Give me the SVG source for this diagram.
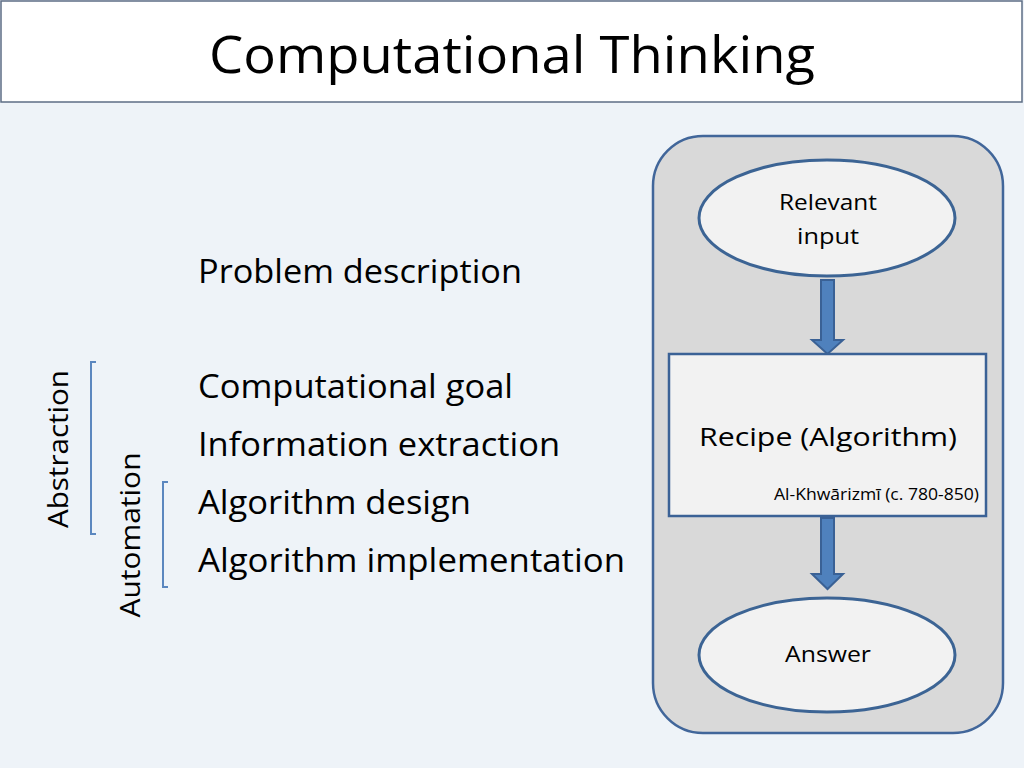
<svg xmlns="http://www.w3.org/2000/svg" width="1024" height="768" viewBox="0 0 1024 768">
<defs>
<style>
text{font-family:"Open Sans","Noto Sans","Liberation Sans",sans-serif;fill:#000}
.body{font-size:32px}
.side{font-size:28px}
.node{font-size:22px}
.br{fill:none;stroke:#5b87bf;stroke-width:2}
.ell{fill:#f2f2f2;stroke:#3c6494;stroke-width:3}
.arr{fill:#4f81bd;stroke:#3a6195;stroke-width:2}
</style>
</defs>
<rect x="0" y="0" width="1024" height="768" fill="#eef3f8"/>
<rect x="1" y="1" width="1021" height="101" fill="#ffffff" stroke="#5d6e85" stroke-width="1.5"/>
<text x="512" y="73" font-size="52" text-anchor="middle" textLength="606" lengthAdjust="spacingAndGlyphs">Computational Thinking</text>

<g id="steps">
<text class="body" x="198" y="283" textLength="324" lengthAdjust="spacingAndGlyphs">Problem description</text>
<text class="body" x="198" y="398" textLength="315" lengthAdjust="spacingAndGlyphs">Computational goal</text>
<text class="body" x="198" y="456" textLength="362" lengthAdjust="spacingAndGlyphs">Information extraction</text>
<text class="body" x="198" y="514" textLength="273" lengthAdjust="spacingAndGlyphs">Algorithm design</text>
<text class="body" x="198" y="572" textLength="427" lengthAdjust="spacingAndGlyphs">Algorithm implementation</text>
</g>

<g id="abstraction">
<path class="br" d="M96,362 H91 V534 H96"/>
<text class="side" transform="translate(68,449) rotate(-90)" text-anchor="middle" textLength="158" lengthAdjust="spacingAndGlyphs">Abstraction</text>
</g>
<g id="automation">
<path class="br" d="M168,482 H163 V587 H168"/>
<text class="side" transform="translate(140,535) rotate(-90)" text-anchor="middle" textLength="165" lengthAdjust="spacingAndGlyphs">Automation</text>
</g>

<g id="panel">
<rect x="653" y="136" width="350" height="597" rx="50" ry="50" fill="#d9d9d9" stroke="#41669a" stroke-width="2.5"/>
</g>

<g id="connectors">
<path class="arr" d="M821,280 H834 V340 H843 L827.5,354 L812,340 H821 Z"/>
<path class="arr" d="M821,518 H834 V574 H843 L827.5,589 L812,574 H821 Z"/>
</g>

<g id="input">
<ellipse class="ell" cx="827" cy="218" rx="128" ry="58"/>
<text class="node" x="828" y="210" text-anchor="middle" textLength="98" lengthAdjust="spacingAndGlyphs">Relevant</text>
<text class="node" x="828" y="244" text-anchor="middle" textLength="62" lengthAdjust="spacingAndGlyphs">input</text>
</g>

<g id="recipe">
<rect x="669" y="354" width="317" height="162" fill="#f2f2f2" stroke="#3b6296" stroke-width="2.5"/>
<text x="828" y="446" font-size="26" text-anchor="middle" textLength="258" lengthAdjust="spacingAndGlyphs">Recipe (Algorithm)</text>
<text x="979" y="500" font-size="16" text-anchor="end" textLength="205" lengthAdjust="spacingAndGlyphs">Al-Khwārizmī (c. 780-850)</text>
</g>

<g id="answer">
<ellipse class="ell" cx="827" cy="655" rx="128" ry="57"/>
<text class="node" x="828" y="662" text-anchor="middle" textLength="86" lengthAdjust="spacingAndGlyphs">Answer</text>
</g>
</svg>
